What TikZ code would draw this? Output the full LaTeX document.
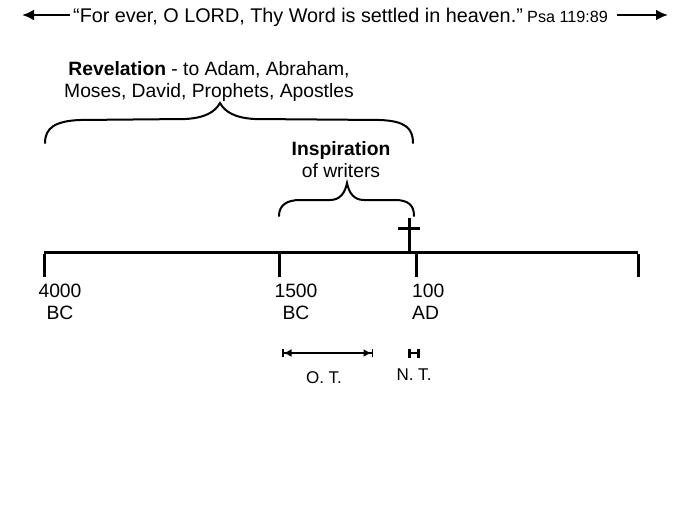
\documentclass[tikz,border=0pt]{standalone}
\usepackage{fontspec}
\setmainfont{Liberation Sans}
\usetikzlibrary{arrows.meta}
\begin{document}
\begin{tikzpicture}[x=1pt,y=-1pt,
  txt/.style={inner sep=0pt,font=\fontsize{19.3}{22}\selectfont},
  quote/.style={inner sep=0pt,font=\fontsize{19.8}{22}\selectfont},
  small/.style={inner sep=0pt,font=\fontsize{16.2}{18}\selectfont},
  lbl/.style={inner sep=0pt,font=\fontsize{17}{20}\selectfont},
  axis/.style={line width=3.3pt},
  tick/.style={line width=3pt},
  brace/.style={line width=2pt,line cap=round},
  toparrow/.style={line width=2.8pt,-{Latex[length=12pt,width=11pt]}},
  span/.style={line width=2.6pt}]
\useasboundingbox (0,0) rectangle (697,523);
\fill[white] (0,0) rectangle (697,523);
% top quote
\node[quote,anchor=base west] (q) at (73,22) {“For ever, O LORD, Thy Word is settled in heaven.”};
\node[small,anchor=base west] (p) at (527,22) {Psa 119:89};
\coordinate (la1) at (70,15); \coordinate (la2) at (22,15);
\coordinate (ra1) at (617,15); \coordinate (ra2) at (668,15);
\draw[toparrow] (la1) -- (la2);
\draw[toparrow] (ra1) -- (ra2);
% revelation
\node[txt,anchor=base] (rev1) at (209,75) {\textbf{Revelation} - to Adam, Abraham,};
\node[txt,anchor=base] (rev2) at (209,97) {Moses, David, Prophets, Apostles};
\draw[brace] (45,143) .. controls (45,128) and (55,121) .. (80,120) -- (185,119)
  .. controls (205,118) and (215,112) .. (220,103)
  .. controls (225,112) and (235,118) .. (255,119) -- (380,120)
  .. controls (405,121) and (413,128) .. (413,143);
% inspiration
\node[txt,anchor=base] (ins1) at (341,155) {\textbf{Inspiration}};
\node[txt,anchor=base] (ins2) at (341,177) {of writers};
\draw[brace] (279,216) .. controls (279,205) and (287,200) .. (300,200) -- (330,200)
  .. controls (340,200) and (345,193) .. (347,183)
  .. controls (349,193) and (354,200) .. (364,200) -- (395,200)
  .. controls (408,200) and (414,205) .. (414,216);
% cross
\coordinate (ct) at (409.5,218); \coordinate (cb) at (409.5,251);
\coordinate (cl) at (398,228); \coordinate (cr) at (420,228);
\draw[tick] (ct) -- (cb);
\draw[tick] (cl) -- (cr);
% timeline
\coordinate (t1) at (44,252.5); \coordinate (t2) at (279,252.5);
\coordinate (t3) at (416,252.5); \coordinate (t4) at (638,252.5);
\draw[axis] (t1) -- (t4);
\foreach \t in {t1,t2,t3,t4} \draw[tick] ([yshift=-1.5pt]\t) -- ++(0,23);
\node[txt,anchor=base] (y1) at (60,297) {4000};
\node[txt,anchor=base] (e1) at (60,319) {BC};
\node[txt,anchor=base] (y2) at (296,297) {1500};
\node[txt,anchor=base] (e2) at (296,319) {BC};
\node[txt,anchor=base west] (y3) at (412,297) {100};
\node[txt,anchor=base west] (e3) at (412,319) {AD};
% spans
\coordinate (o1) at (282,353); \coordinate (o2) at (373,353);
\draw[span,{Bar[width=8pt,line width=1.5pt]Latex[length=8pt,width=8pt]}-{Latex[length=8pt,width=8pt]Bar[width=8pt,line width=1.5pt]}] (o1) -- (o2);
\node[lbl,anchor=base] (ot) at (324,383) {O. T.};
\coordinate (n1) at (408,353); \coordinate (n2) at (420,353);
\draw[span,{Bar[width=9pt]}-{Bar[width=9pt]}] (n1) -- (n2);
\node[lbl,anchor=base] (nt) at (414,380) {N. T.};
\end{tikzpicture}
\end{document}
